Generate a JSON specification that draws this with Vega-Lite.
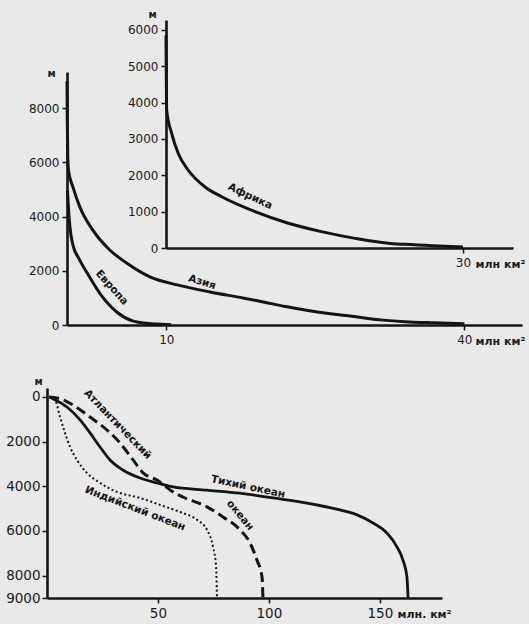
{
  "$schema": "https://vega.github.io/schema/vega-lite/v6.json",
  "width": 529,
  "height": 624,
  "autosize": "none",
  "padding": 0,
  "background": "#e9e9e9",
  "config": {
    "view": {"stroke": null},
    "axis": {
      "grid": false,
      "domainColor": "#141414",
      "tickColor": "#141414",
      "labelColor": "#1a1a1a",
      "titleColor": "#1a1a1a",
      "labelFont": "DejaVu Sans",
      "titleFont": "DejaVu Sans",
      "domainWidth": 2.6,
      "tickWidth": 1.5,
      "tickSize": 5,
      "labelFlush": false,
      "labelOverlap": false,
      "format": "d"
    }
  },
  "datasets": {
    "continents": [
      {"series": "Европа", "x": 0.05, "y": 4950},
      {"series": "Европа", "x": 0.15, "y": 4300},
      {"series": "Европа", "x": 0.3, "y": 3600},
      {"series": "Европа", "x": 0.6, "y": 2950},
      {"series": "Европа", "x": 1.2, "y": 2450},
      {"series": "Европа", "x": 2.1, "y": 1880},
      {"series": "Европа", "x": 3.4, "y": 1120},
      {"series": "Европа", "x": 5.0, "y": 480},
      {"series": "Европа", "x": 6.6, "y": 150},
      {"series": "Европа", "x": 8.0, "y": 65},
      {"series": "Европа", "x": 9.5, "y": 25},
      {"series": "Европа", "x": 10.5, "y": 5},
      {"series": "Азия", "x": 0.0, "y": 9000},
      {"series": "Азия", "x": 0.03, "y": 7500},
      {"series": "Азия", "x": 0.08, "y": 6200},
      {"series": "Азия", "x": 0.15, "y": 5700},
      {"series": "Азия", "x": 0.6, "y": 5090},
      {"series": "Азия", "x": 1.3, "y": 4350},
      {"series": "Азия", "x": 2.6, "y": 3500},
      {"series": "Азия", "x": 4.3, "y": 2770},
      {"series": "Азия", "x": 6.0, "y": 2290},
      {"series": "Азия", "x": 8.4, "y": 1770},
      {"series": "Азия", "x": 11.1, "y": 1480},
      {"series": "Азия", "x": 14.4, "y": 1220},
      {"series": "Азия", "x": 17.7, "y": 1000},
      {"series": "Азия", "x": 19.4, "y": 880},
      {"series": "Азия", "x": 22.0, "y": 680},
      {"series": "Азия", "x": 25.2, "y": 480},
      {"series": "Азия", "x": 28.5, "y": 330},
      {"series": "Азия", "x": 31.8, "y": 180},
      {"series": "Азия", "x": 34.0, "y": 120},
      {"series": "Азия", "x": 37.0, "y": 80},
      {"series": "Азия", "x": 40.0, "y": 50}
    ],
    "africa": [
      {"series": "Африка", "x": 0.0, "y": 5850},
      {"series": "Африка", "x": 0.03, "y": 4700},
      {"series": "Африка", "x": 0.07, "y": 3790},
      {"series": "Африка", "x": 0.58, "y": 3150},
      {"series": "Африка", "x": 1.24, "y": 2600},
      {"series": "Африка", "x": 2.25, "y": 2140},
      {"series": "Африка", "x": 3.94, "y": 1680},
      {"series": "Африка", "x": 5.63, "y": 1410},
      {"series": "Африка", "x": 9.0, "y": 1000},
      {"series": "Африка", "x": 12.35, "y": 680},
      {"series": "Африка", "x": 15.7, "y": 450},
      {"series": "Африка", "x": 19.1, "y": 265},
      {"series": "Африка", "x": 22.45, "y": 130},
      {"series": "Африка", "x": 24.1, "y": 100},
      {"series": "Африка", "x": 27.0, "y": 60},
      {"series": "Африка", "x": 30.0, "y": 30}
    ],
    "oceans": [
      {"series": "Тихий", "x": 1.0, "y": 0},
      {"series": "Тихий", "x": 2.7, "y": 80},
      {"series": "Тихий", "x": 9.0, "y": 450},
      {"series": "Тихий", "x": 14.9, "y": 1030},
      {"series": "Тихий", "x": 19.4, "y": 1610},
      {"series": "Тихий", "x": 23.9, "y": 2240},
      {"series": "Тихий", "x": 28.4, "y": 2820},
      {"series": "Тихий", "x": 34.2, "y": 3270},
      {"series": "Тихий", "x": 41.9, "y": 3630},
      {"series": "Тихий", "x": 49.6, "y": 3850},
      {"series": "Тихий", "x": 56.8, "y": 4030},
      {"series": "Тихий", "x": 72.0, "y": 4170},
      {"series": "Тихий", "x": 87.0, "y": 4310},
      {"series": "Тихий", "x": 101.8, "y": 4520},
      {"series": "Тихий", "x": 117.2, "y": 4750},
      {"series": "Тихий", "x": 132.0, "y": 5060},
      {"series": "Тихий", "x": 139.7, "y": 5280},
      {"series": "Тихий", "x": 146.9, "y": 5640},
      {"series": "Тихий", "x": 153.2, "y": 6090},
      {"series": "Тихий", "x": 157.7, "y": 6710},
      {"series": "Тихий", "x": 160.4, "y": 7300},
      {"series": "Тихий", "x": 162.2, "y": 8060},
      {"series": "Тихий", "x": 162.7, "y": 9000},
      {"series": "Атлантический", "x": 1.0, "y": 0},
      {"series": "Атлантический", "x": 4.5, "y": 45},
      {"series": "Атлантический", "x": 11.7, "y": 360},
      {"series": "Атлантический", "x": 19.4, "y": 900},
      {"series": "Атлантический", "x": 27.0, "y": 1480},
      {"series": "Атлантический", "x": 32.9, "y": 2060},
      {"series": "Атлантический", "x": 38.8, "y": 2820},
      {"series": "Атлантический", "x": 43.3, "y": 3400},
      {"series": "Атлантический", "x": 49.6, "y": 3720},
      {"series": "Атлантический", "x": 56.8, "y": 4250},
      {"series": "Атлантический", "x": 61.3, "y": 4480},
      {"series": "Атлантический", "x": 72.1, "y": 4920},
      {"series": "Атлантический", "x": 79.3, "y": 5370},
      {"series": "Атлантический", "x": 87.0, "y": 5950},
      {"series": "Атлантический", "x": 91.5, "y": 6540},
      {"series": "Атлантический", "x": 94.6, "y": 7300},
      {"series": "Атлантический", "x": 96.9, "y": 8060},
      {"series": "Атлантический", "x": 97.3, "y": 9000},
      {"series": "Индийский", "x": 1.0, "y": 0},
      {"series": "Индийский", "x": 3.6, "y": 130},
      {"series": "Индийский", "x": 5.9, "y": 900},
      {"series": "Индийский", "x": 8.1, "y": 1610},
      {"series": "Индийский", "x": 10.4, "y": 2240},
      {"series": "Индийский", "x": 13.5, "y": 2820},
      {"series": "Индийский", "x": 18.0, "y": 3400},
      {"series": "Индийский", "x": 23.9, "y": 3850},
      {"series": "Индийский", "x": 31.5, "y": 4250},
      {"series": "Индийский", "x": 41.9, "y": 4520},
      {"series": "Индийский", "x": 50.9, "y": 4830},
      {"series": "Индийский", "x": 59.9, "y": 5150},
      {"series": "Индийский", "x": 67.6, "y": 5500},
      {"series": "Индийский", "x": 72.1, "y": 5950},
      {"series": "Индийский", "x": 74.8, "y": 6710},
      {"series": "Индийский", "x": 76.2, "y": 7610},
      {"series": "Индийский", "x": 76.6, "y": 9000}
    ]
  },
  "layer": [
    {
      "data": {"name": "continents"},
      "encoding": {
        "x": {
          "field": "x", "type": "quantitative",
          "scale": {"domain": [0, 45.8], "range": [67, 522], "nice": false, "zero": false},
          "axis": {
            "orient": "bottom", "offset": -299, "values": [10, 40],
            "labelFontSize": 12, "labelPadding": 4,
            "title": "млн км²", "titleX": 475, "titleY": 16, "titleAlign": "left",
            "titleBaseline": "middle", "titleFontSize": 11, "titleFontWeight": "bold"
          }
        },
        "y": {
          "field": "y", "type": "quantitative",
          "scale": {"domain": [0, 9340], "range": [325, 72], "nice": false, "zero": false},
          "axis": {
            "orient": "left", "offset": -67, "values": [0, 2000, 4000, 6000, 8000],
            "labelFontSize": 12, "labelPadding": 3,
            "title": "м", "titleAngle": 0, "titleX": -16, "titleY": 73,
            "titleAlign": "center", "titleBaseline": "middle", "titleFontSize": 10, "titleFontWeight": "bold"
          }
        }
      },
      "layer": [
        {
          "transform": [{"filter": "datum.series === 'Европа'"}],
          "mark": {"type": "line", "interpolate": "monotone", "strokeWidth": 3, "color": "#141414"}
        },
        {
          "transform": [{"filter": "datum.series === 'Азия'"}],
          "mark": {"type": "line", "interpolate": "monotone", "strokeWidth": 3, "color": "#141414"}
        },
        {
          "data": {"values": [{"x": 4.5, "y": 1380, "label": "Европа"}]},
          "mark": {"type": "text", "angle": 48, "font": "DejaVu Sans", "fontWeight": "bold", "fontSize": 10.5, "color": "#151515", "align": "center", "baseline": "middle"},
          "encoding": {"text": {"field": "label"}}
        },
        {
          "data": {"values": [{"x": 13.6, "y": 1580, "label": "Азия"}]},
          "mark": {"type": "text", "angle": 17, "font": "DejaVu Sans", "fontWeight": "bold", "fontSize": 10.5, "color": "#151515", "align": "center", "baseline": "middle"},
          "encoding": {"text": {"field": "label"}}
        }
      ]
    },
    {
      "data": {"name": "africa"},
      "encoding": {
        "x": {
          "field": "x", "type": "quantitative",
          "scale": {"domain": [0, 35.05], "range": [166, 513], "nice": false, "zero": false},
          "axis": {
            "orient": "bottom", "offset": -376, "values": [30],
            "labelFontSize": 12, "labelPadding": 4,
            "title": "млн км²", "titleX": 475, "titleY": 16, "titleAlign": "left",
            "titleBaseline": "middle", "titleFontSize": 11, "titleFontWeight": "bold"
          }
        },
        "y": {
          "field": "y", "type": "quantitative",
          "scale": {"domain": [0, 6275], "range": [248, 20], "nice": false, "zero": false},
          "axis": {
            "orient": "left", "offset": -166, "values": [0, 1000, 2000, 3000, 4000, 5000, 6000],
            "labelFontSize": 12, "labelPadding": 3,
            "title": "м", "titleAngle": 0, "titleX": -14, "titleY": 14,
            "titleAlign": "center", "titleBaseline": "middle", "titleFontSize": 10, "titleFontWeight": "bold"
          }
        }
      },
      "layer": [
        {
          "mark": {"type": "line", "interpolate": "monotone", "strokeWidth": 3, "color": "#141414"}
        },
        {
          "data": {"values": [{"x": 8.5, "y": 1420, "label": "Африка"}]},
          "mark": {"type": "text", "angle": 25, "font": "DejaVu Sans", "fontWeight": "bold", "fontSize": 10.5, "color": "#151515", "align": "center", "baseline": "middle"},
          "encoding": {"text": {"field": "label"}}
        }
      ]
    },
    {
      "data": {"name": "oceans"},
      "encoding": {
        "x": {
          "field": "x", "type": "quantitative",
          "scale": {"domain": [0, 178], "range": [47, 442], "nice": false, "zero": false},
          "axis": {
            "orient": "bottom", "offset": -26, "values": [50, 100, 150],
            "labelFontSize": 13.5, "labelPadding": 3,
            "title": "млн. км²", "titleX": 397, "titleY": 16, "titleAlign": "left",
            "titleBaseline": "middle", "titleFontSize": 11, "titleFontWeight": "bold"
          }
        },
        "y": {
          "field": "y", "type": "quantitative",
          "scale": {"domain": [-400, 9000], "range": [388, 598], "nice": false, "zero": false},
          "axis": {
            "orient": "left", "offset": -47, "values": [0, 2000, 4000, 6000, 8000, 9000],
            "labelFontSize": 13.5, "labelPadding": 2,
            "title": "м", "titleAngle": 0, "titleX": -9, "titleY": 381,
            "titleAlign": "center", "titleBaseline": "middle", "titleFontSize": 10, "titleFontWeight": "bold"
          }
        }
      },
      "layer": [
        {
          "transform": [{"filter": "datum.series === 'Тихий'"}],
          "mark": {"type": "line", "interpolate": "monotone", "strokeWidth": 2.8, "color": "#141414"}
        },
        {
          "transform": [{"filter": "datum.series === 'Атлантический'"}],
          "mark": {"type": "line", "interpolate": "monotone", "strokeWidth": 3, "strokeDash": [10, 5], "color": "#141414"}
        },
        {
          "transform": [{"filter": "datum.series === 'Индийский'"}],
          "mark": {"type": "line", "interpolate": "monotone", "strokeWidth": 2, "strokeDash": [2, 2.5], "color": "#141414"}
        },
        {
          "data": {"values": [{"x": 31.8, "y": 1230, "label": "Атлантический"}]},
          "mark": {"type": "text", "angle": 46, "font": "DejaVu Sans", "fontWeight": "bold", "fontSize": 10.5, "color": "#151515", "align": "center", "baseline": "middle"},
          "encoding": {"text": {"field": "label"}}
        },
        {
          "data": {"values": [{"x": 87.0, "y": 5300, "label": "океан"}]},
          "mark": {"type": "text", "angle": 50, "font": "DejaVu Sans", "fontWeight": "bold", "fontSize": 10.5, "color": "#151515", "align": "center", "baseline": "middle"},
          "encoding": {"text": {"field": "label"}}
        },
        {
          "data": {"values": [{"x": 90.6, "y": 4030, "label": "Тихий океан"}]},
          "mark": {"type": "text", "angle": 12, "font": "DejaVu Sans", "fontWeight": "bold", "fontSize": 10.5, "color": "#151515", "align": "center", "baseline": "middle"},
          "encoding": {"text": {"field": "label"}}
        },
        {
          "data": {"values": [{"x": 39.7, "y": 5000, "label": "Индийский океан"}]},
          "mark": {"type": "text", "angle": 21, "font": "DejaVu Sans", "fontWeight": "bold", "fontSize": 10.5, "color": "#151515", "align": "center", "baseline": "middle"},
          "encoding": {"text": {"field": "label"}}
        }
      ]
    }
  ],
  "resolve": {
    "scale": {"x": "independent", "y": "independent"},
    "axis": {"x": "independent", "y": "independent"}
  }
}
